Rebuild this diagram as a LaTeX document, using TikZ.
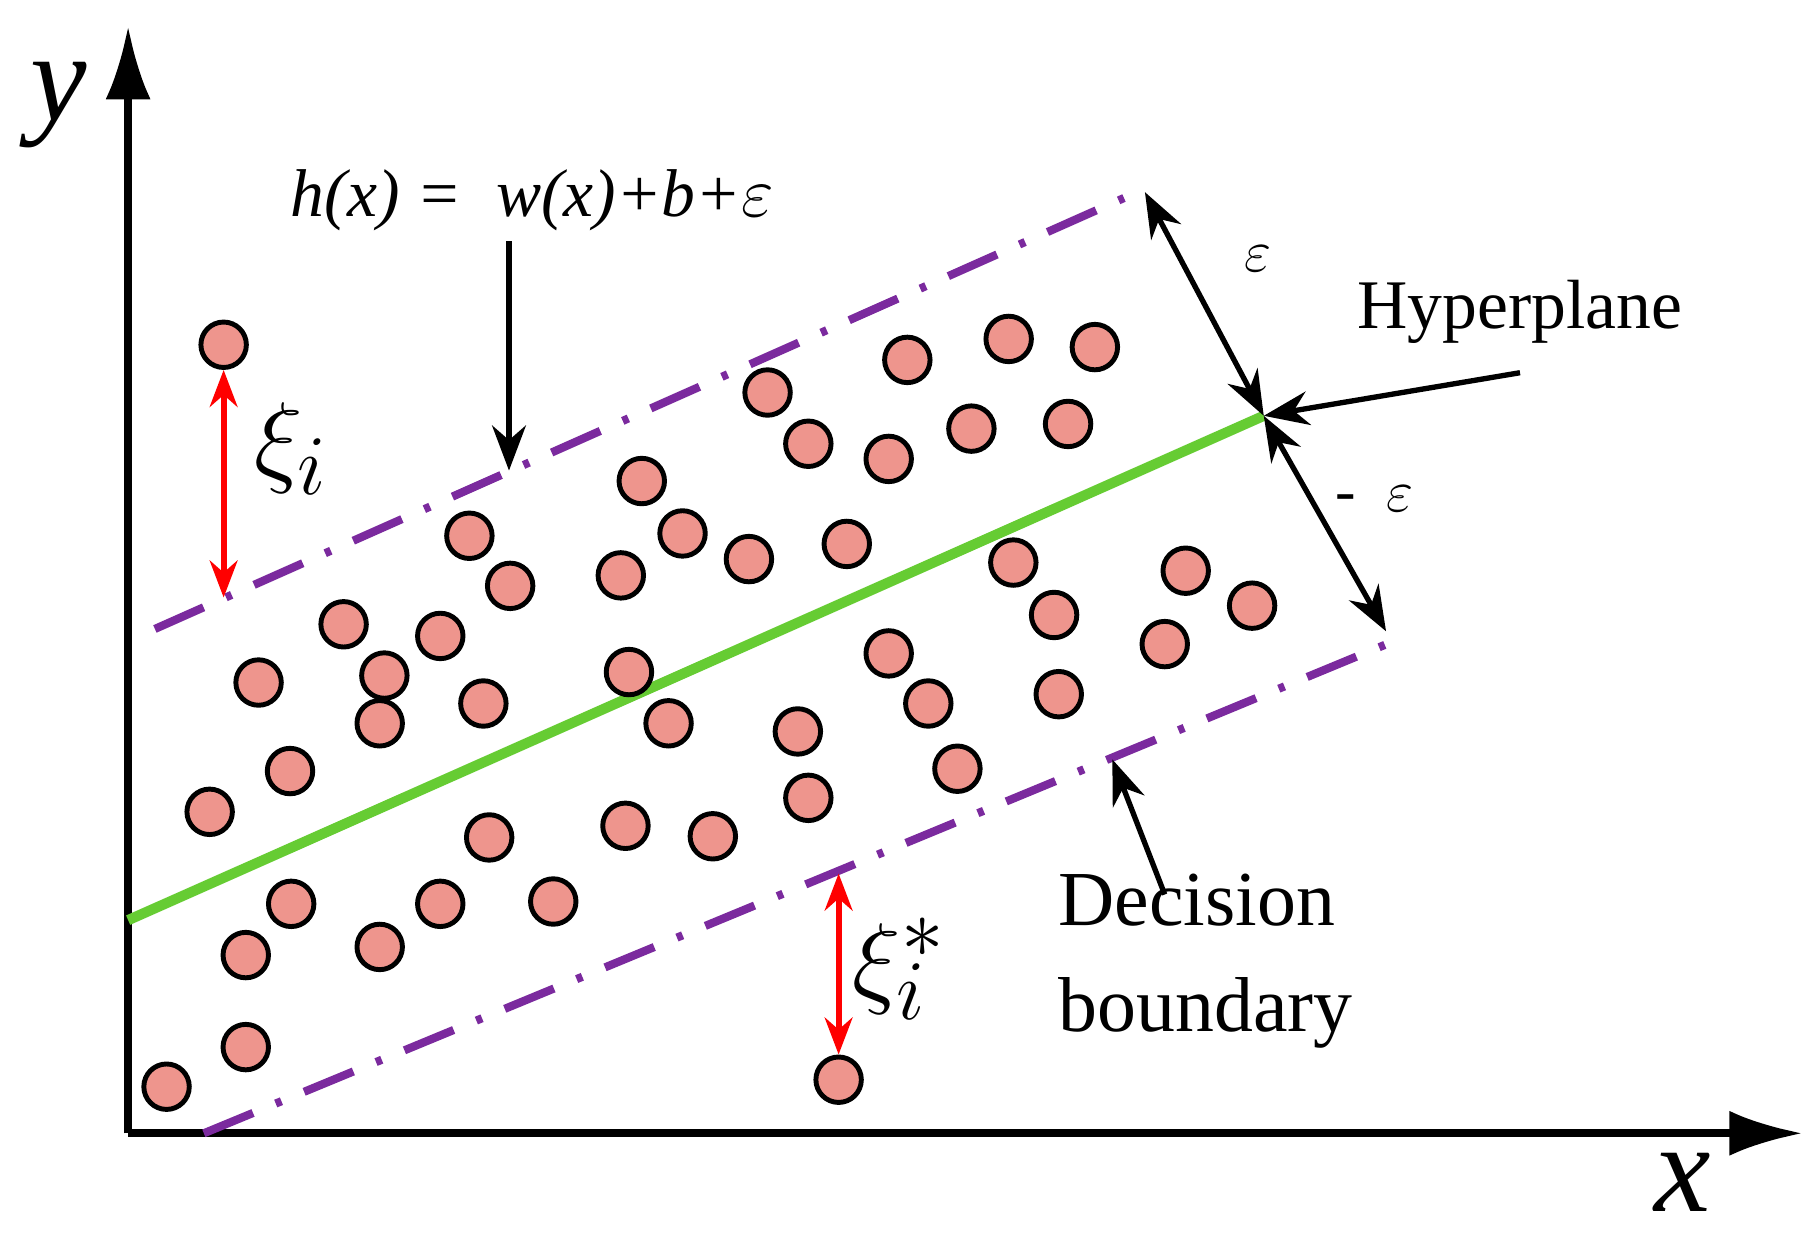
\documentclass[tikz,border=0pt]{standalone}
\usepackage{fontspec}
\setmainfont{Liberation Serif}
\usetikzlibrary{arrows.meta}
\definecolor{dotpink}{HTML}{EE958D}
\definecolor{bandpurple}{HTML}{7B2A9E}
\definecolor{planegreen}{HTML}{66CC33}
\tikzset{
  sample/.style={circle,draw=black,line width=1.2pt,fill=dotpink,minimum size=0.39cm,inner sep=0pt},
  band/.style={bandpurple,line width=2pt,dash pattern=on 13pt off 6pt on 1.5pt off 6pt},
  slack/.style={red,line width=1.5pt,{Stealth[length=9pt]}-{Stealth[length=9pt]}},
  pointer/.style={black,line width=1.3pt,-{Stealth[length=11pt]}},
  label/.style={font=\fontsize{15}{18}\selectfont}
}
\begin{document}
\begin{tikzpicture}[x=0.01cm,y=-0.01cm]
    \useasboundingbox (0,0) rectangle (1560,1061);
    % axes
    \coordinate (o) at (110,973);
    \coordinate (ytop) at (110,22);
    \coordinate (xend) at (1548,973);
    \draw[line width=2pt,-{Latex[length=18pt,width=11pt]}] (o) -- (ytop);
    \draw[line width=2pt,-{Latex[length=18pt,width=11pt]}] (o) -- (xend);
    \node[font=\itshape\fontsize{31}{31}\selectfont] (ylab) at (50,90) {y};
    \node[font=\itshape\fontsize{31}{31}\selectfont] (xlab) at (1445,1015) {x};
    % band and hyperplane
    \coordinate (hp1) at (110,790);
    \coordinate (hp2) at (1085,357);
    \coordinate (up1) at (133,540);
    \coordinate (up2) at (965,170);
    \coordinate (lo1) at (175,973);
    \coordinate (lo2) at (1193,552);
    \draw[band] (up1) -- (up2);
    \draw[band] (lo1) -- (lo2);
    \draw[planegreen,line width=2.5pt] (hp1) -- (hp2);
    % samples
    \foreach \px/\py [count=\k] in {192/296,222/586,295/536,330/580,378/546,326/621,415/604,249/662,
        180/697,403/460,438/503,533/494,551/413,586/458,643/480,727/467,659/337,694/381,763/394,
        779/309,834/368,866/291,917/364,940/298,870/483,905/528,909/596,1018/490,1000/553,
        1075/520,763/561,797/604,540/577,574/621,685/628,822/660,694/685,612/718,537/709,
        420/719,250/776,378/776,475/774,326/813,211/820,211/899,143/933,720/927}
        \node[sample] (s\k) at (\px,\py) {};
    % slack variables
    \coordinate (xia) at (192,513);
    \coordinate (xib) at (720,750);
    \draw[slack] (s1) -- (xia);
    \draw[slack] (xib) -- (s48);
    \node[font=\fontsize{30}{30}\selectfont] (xi) at (250,385) {$\xi_i$};
    \node[font=\fontsize{30}{30}\selectfont] (xistar) at (772,832) {$\xi_i^*$};
    % epsilon margins
    \coordinate (eps1) at (983,165);
    \coordinate (eps2) at (1190,542);
    \draw[black,line width=1.3pt,{Stealth[length=11pt]}-{Stealth[length=11pt]}] (eps1) -- (hp2);
    \draw[black,line width=1.3pt,{Stealth[length=11pt]}-{Stealth[length=11pt]}] (hp2) -- (eps2);
    \node[label] (epsup) at (1080,222) {$\varepsilon$};
    \node[label] (epslo) at (1180,428) {-\enspace$\varepsilon$};
    % labels with pointers
    \node[font=\itshape\fontsize{16.5}{20}\selectfont] (hx) at (457,172) {h(x) =\enspace w(x)+b+$\varepsilon$};
    \coordinate (hxend) at (437,404);
    \draw[pointer] (437,207) -- (hxend);
    \node[font=\fontsize{17}{20}\selectfont] (hyp) at (1305,268) {Hyperplane};
    \draw[pointer] (1305,320) -- (hp2);
    \node[font=\fontsize{19}{22}\selectfont,align=left] (dec) at (1035,825) {Decision\\[4pt]boundary};
    \coordinate (decend) at (955,652);
    \draw[pointer] (1000,768) -- (decend);
\end{tikzpicture}
\end{document}
